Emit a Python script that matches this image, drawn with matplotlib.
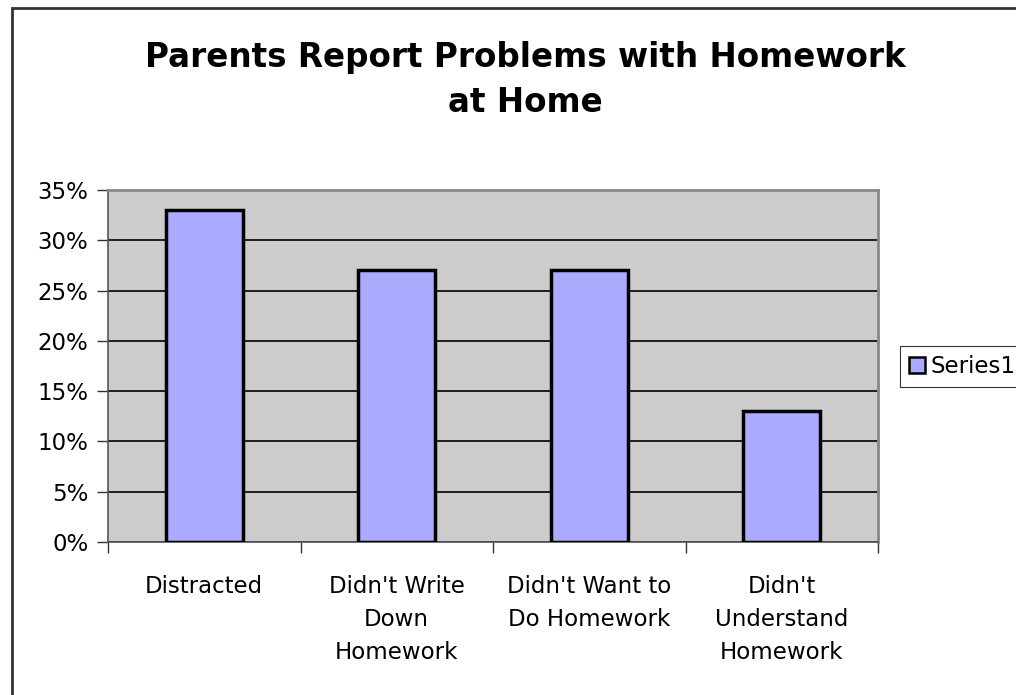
import matplotlib.pyplot as plt
from matplotlib.patches import Patch, Rectangle
from matplotlib.ticker import MultipleLocator, PercentFormatter

# Survey results: share of parents reporting each problem
categories = ['Distracted', "Didn't Write\nDown\nHomework",
              "Didn't Want to\nDo Homework", "Didn't\nUnderstand\nHomework"]
values = [0.33, 0.27, 0.27, 0.13]
series_name = 'Series1'
title = 'Parents Report Problems with Homework\nat Home'

plt.rcParams['font.family'] = 'DejaVu Sans'

fig = plt.figure(figsize=(10.16, 6.95), dpi=100)

# outer chart frame (runs off the right and bottom edges)
fig.patches.append(Rectangle((12 / 1016, -0.1), 1.2, 1 - 8 / 695 + 0.1,
                             transform=fig.transFigure, fill=False,
                             edgecolor='#333333', linewidth=2, zorder=0))

ax = fig.add_axes([108 / 1016, 1 - 542 / 695, 770 / 1016, 352 / 695])
ax.set_facecolor('#CCCCCC')

x = range(len(categories))
ax.bar(x, values, width=0.4, color='#AAAAFF', edgecolor='black',
       linewidth=2.5, zorder=3)

ax.set_xlim(-0.5, len(categories) - 0.5)
ax.set_ylim(0, 0.35)
ax.yaxis.set_major_locator(MultipleLocator(0.05))
ax.yaxis.set_major_formatter(PercentFormatter(1.0, decimals=0))
ax.yaxis.grid(True, color='black', linewidth=1.2, zorder=1)
ax.set_axisbelow(True)

# category ticks sit on the boundaries between bars
ax.set_xticks([i - 0.5 for i in range(len(categories) + 1)])
ax.set_xticklabels([])
ax.set_xticks(list(x), minor=True)
ax.set_xticklabels(categories, minor=True, fontsize=16.5, linespacing=1.55)
ax.tick_params(axis='x', which='minor', length=0, pad=24)
ax.tick_params(axis='x', which='major', length=8, width=1, color='#333333')
ax.tick_params(axis='y', length=8, width=1, color='#333333', labelsize=16.5, pad=6)

for side in ['top', 'right']:
    ax.spines[side].set_color('#888888')
    ax.spines[side].set_linewidth(2)
for side in ['left', 'bottom']:
    ax.spines[side].set_color('#555555')
    ax.spines[side].set_linewidth(1.2)

fig.text(525 / 1016, 1 - 80 / 695, title, ha='center', va='center',
         fontsize=23.5, fontweight='bold', linespacing=1.45)

handle = Patch(facecolor='#AAAAFF', edgecolor='black', linewidth=1.8)
leg = fig.legend([handle], [series_name], loc='upper left',
                 bbox_to_anchor=(900 / 1016, 1 - 346 / 695),
                 fontsize=16.5, frameon=True, fancybox=False, shadow=False,
                 borderpad=0.4, borderaxespad=0, handlelength=0.7,
                 handleheight=0.7, handletextpad=0.25)
leg.get_frame().set_edgecolor('black')
leg.get_frame().set_linewidth(0.8)

fig.savefig('out.png', dpi=100)
